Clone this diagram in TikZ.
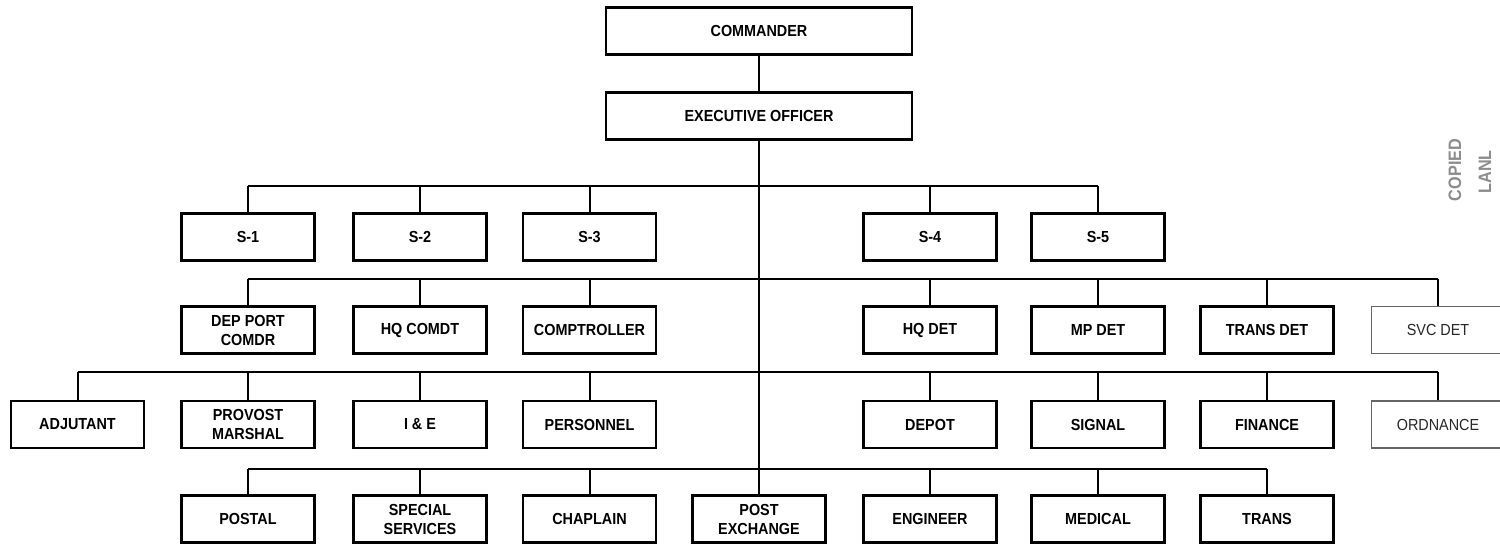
\documentclass[tikz,border=0pt]{standalone}
\usepackage{fontspec}
\setmainfont{Liberation Sans}[FakeStretch=0.9]
\tikzstyle{unit} = [rectangle, draw=black, line width=1.1pt, minimum width=66.5pt, minimum height=23.5pt, inner sep=1pt, align=center, font=\bfseries\fontsize{8}{9.5}\selectfont]
\tikzstyle{head} = [unit, minimum width=153pt]
\tikzstyle{faint} = [unit, draw=black!60, line width=0.7pt, text=black!85, font=\fontsize{8}{9.5}\selectfont]
\tikzstyle{link} = [line width=1pt]
\tikzstyle{stamp} = [rotate=90, text=black!45, font=\bfseries\fontsize{9}{9}\selectfont]
\newcommand{\drop}[2]{\draw[link] (#1.north) -- (#1.north |- #2);}

\begin{document}
\begin{tikzpicture}[x=0.5pt, y=-0.5pt]
	\clip (0,0) rectangle (1500,544);
	% command
	\node [head] (cmdr) at (759,31) {COMMANDER};
	\node [head] (xo) at (759,116) {EXECUTIVE OFFICER};
	% staff sections
	\node [unit] (s1) at (248,237) {S-1};
	\node [unit] (s2) at (420,237) {S-2};
	\node [unit] (s3) at (589.5,237) {S-3};
	\node [unit] (s4) at (930,237) {S-4};
	\node [unit] (s5) at (1098,237) {S-5};
	% third row
	\node [unit] (dep) at (248,330) {DEP PORT\\COMDR};
	\node [unit] (hqcomdt) at (420,330) {HQ COMDT};
	\node [unit] (compt) at (589.5,330) {COMPTROLLER};
	\node [unit] (hqdet) at (930,330) {HQ DET};
	\node [unit] (mpdet) at (1098,330) {MP DET};
	\node [unit] (transdet) at (1267,330) {TRANS DET};
	\node [faint] (svcdet) at (1438,330) {SVC DET};
	% fourth row
	\node [unit] (adj) at (77.5,424.5) {ADJUTANT};
	\node [unit] (pm) at (248,424.5) {PROVOST\\MARSHAL};
	\node [unit] (ie) at (420,424.5) {I \& E};
	\node [unit] (pers) at (589.5,424.5) {PERSONNEL};
	\node [unit] (depot) at (930,424.5) {DEPOT};
	\node [unit] (sig) at (1098,424.5) {SIGNAL};
	\node [unit] (fin) at (1267,424.5) {FINANCE};
	\node [faint] (ord) at (1438,424.5) {ORDNANCE};
	% bottom row
	\node [unit] (postal) at (248,519) {POSTAL};
	\node [unit] (ss) at (420,519) {SPECIAL\\SERVICES};
	\node [unit] (chap) at (589.5,519) {CHAPLAIN};
	\node [unit] (px) at (759,519) {POST\\EXCHANGE};
	\node [unit] (eng) at (930,519) {ENGINEER};
	\node [unit] (med) at (1098,519) {MEDICAL};
	\node [unit] (trans) at (1267,519) {TRANS};
	% stamp
	\node [stamp] (copied) at (1455,170) {COPIED};
	\node [stamp] (lanl) at (1485,172) {LANL};

	% buses
	\coordinate (b1) at (0,186);
	\coordinate (b2) at (0,279);
	\coordinate (b3) at (0,372);
	\coordinate (b4) at (0,469);

	\draw[link] (cmdr.south) -- (xo.north);
	\draw[link] (xo.south) -- (px.north);

	\draw[link] (s1.north |- b1) -- (s5.north |- b1);
	\drop{s1}{b1} \drop{s2}{b1} \drop{s3}{b1} \drop{s4}{b1} \drop{s5}{b1}

	\draw[link] (dep.north |- b2) -- (svcdet.north |- b2);
	\drop{dep}{b2} \drop{hqcomdt}{b2} \drop{compt}{b2} \drop{hqdet}{b2}
	\drop{mpdet}{b2} \drop{transdet}{b2} \drop{svcdet}{b2}

	\draw[link] (adj.north |- b3) -- (ord.north |- b3);
	\drop{adj}{b3} \drop{pm}{b3} \drop{ie}{b3} \drop{pers}{b3}
	\drop{depot}{b3} \drop{sig}{b3} \drop{fin}{b3} \drop{ord}{b3}

	\draw[link] (postal.north |- b4) -- (trans.north |- b4);
	\drop{postal}{b4} \drop{ss}{b4} \drop{chap}{b4}
	\drop{eng}{b4} \drop{med}{b4} \drop{trans}{b4}
\end{tikzpicture}
\end{document}
